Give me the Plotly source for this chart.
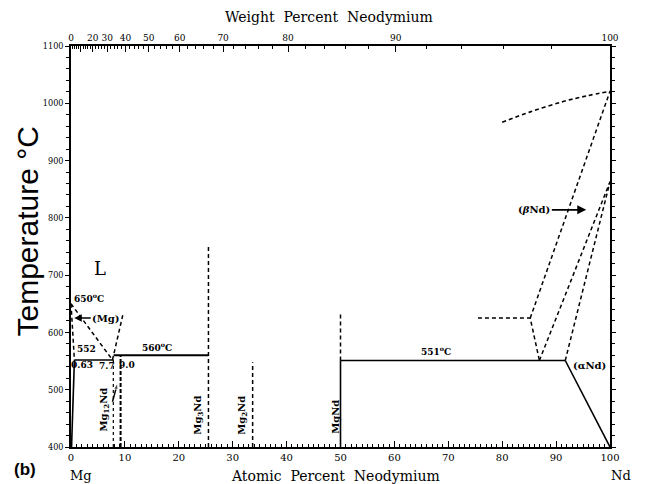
import plotly.graph_objects as go

# ---------------- data (atomic % Nd, temperature in C) ----------------
mg_liquidus_x = [0, 7.7]
mg_liquidus_t = [650, 552]
mg_solidus_x = [0, 0.63]
mg_solidus_t = [650, 552]
mg_solvus_x = [0.1, 0.63]
mg_solvus_t = [400, 552]
eut552_x = [0.63, 7.9]
eut552_t = [552, 552]
per560_x = [7.9, 25.5]
per560_t = [560, 560]
liq2_x = [7.7, 9.6]
liq2_t = [552, 630]
mg12nd_x = [7.85, 7.85]
mg12nd_t = [400, 552]
mg41nd5_x = [9.2, 9.2]
mg41nd5_t = [400, 560]
mg3nd_x = [25.5, 25.5]
mg3nd_t = [400, 750]
mg2nd_x = [33.7, 33.7]
mg2nd_t = [400, 548]
mgnd_solid_x = [50, 50]
mgnd_solid_t = [400, 551]
mgnd_dash_x = [50, 50]
mgnd_dash_t = [551, 635]
eut551_x = [50, 91.7]
eut551_t = [551, 551]
and_solvus_x = [91.7, 100]
and_solvus_t = [551, 400]
and_trans_x = [91.7, 100]
and_trans_t = [551, 863]
bnd_trans_x = [86.9, 100]
bnd_trans_t = [551, 863]
bnd_v_x = [75.5, 85.2, 86.9]
bnd_v_t = [625, 625, 551]
bnd_solidus_x = [85.2, 100]
bnd_solidus_t = [625, 1021]
nd_liquidus_x = [80, 85.2, 91.3, 95.7, 100]
nd_liquidus_t = [967, 985, 1003, 1013, 1021]
arrow_mg12_x = [7.7, 8.65]
arrow_mg12_t = [479, 512]

x_ticks = [0, 10, 20, 30, 40, 50, 60, 70, 80, 90, 100]
t_ticks = [400, 500, 600, 700, 800, 900, 1000, 1100]
wt_ticks = [0, 10, 20, 30, 40, 50, 60, 70, 80, 90, 100]
wt_labels = ["0", " ", "20", "30", "40", "50", "60", "70", "80", "90", "100"]

M_ND = 144.24
M_MG = 24.305


def wt_to_at(w):
    if w >= 100:
        return 100.0
    a = w / M_ND
    b = (100 - w) / M_MG
    return 100 * a / (a + b)


wt_pos = [wt_to_at(w) for w in wt_ticks]
wt_minor = [wt_to_at(w) for w in range(0, 101, 2)]

fig = go.Figure()

SOLID = dict(color="black", width=1.6)
DASH = dict(color="black", width=1.5, dash="4px,3px")


def add(x, t, line):
    fig.add_trace(go.Scatter(x=x, y=t, mode="lines", line=line,
                             hoverinfo="skip", showlegend=False))


add(mg_liquidus_x, mg_liquidus_t, DASH)
add(mg_solidus_x, mg_solidus_t, DASH)
add(mg_solvus_x, mg_solvus_t, SOLID)
add(eut552_x, eut552_t, SOLID)
add(per560_x, per560_t, dict(color="black", width=2))
add(liq2_x, liq2_t, DASH)
add(mg12nd_x, mg12nd_t, dict(color="black", width=1.2, dash="3px,3px"))
add(mg41nd5_x, mg41nd5_t, dict(color="black", width=2, dash="4px,2px"))
add(mg3nd_x, mg3nd_t, DASH)
add(mg2nd_x, mg2nd_t, DASH)
add(mgnd_solid_x, mgnd_solid_t, SOLID)
add(mgnd_dash_x, mgnd_dash_t, DASH)
add(eut551_x, eut551_t, SOLID)
add(and_solvus_x, and_solvus_t, SOLID)
add(and_trans_x, and_trans_t, DASH)
add(bnd_trans_x, bnd_trans_t, DASH)
add(bnd_v_x, bnd_v_t, DASH)
add(bnd_solidus_x, bnd_solidus_t, DASH)
add(nd_liquidus_x, nd_liquidus_t, dict(color="black", width=1.6, dash="4px,3px", shape="spline"))

# small arrow toward Mg12Nd line
fig.add_trace(go.Scatter(x=arrow_mg12_x, y=arrow_mg12_t, mode="lines+markers",
                         line=dict(color="black", width=1.5),
                         marker=dict(symbol=["circle", "arrow"], size=[0, 7],
                                     angleref="previous", color="black"),
                         hoverinfo="skip", showlegend=False))

# invisible trace for top axis
fig.add_trace(go.Scatter(x=[0, 100], y=[400, 400], xaxis="x2", mode="lines",
                         line=dict(width=0), hoverinfo="skip", showlegend=False))

SERIF = "DejaVu Serif"
ann = []


def txt(x, y, s, size=10, xanchor="center", yanchor="middle", angle=0, bold=True,
        xref="x", yref="y", family=SERIF):
    ann.append(dict(x=x, y=y, xref=xref, yref=yref, text=("<b>%s</b>" % s) if bold else s,
                    showarrow=False, xanchor=xanchor, yanchor=yanchor, textangle=angle,
                    font=dict(family=family, size=size, color="black")))


txt(5.4, 712, "L", size=18, bold=False)
txt(0.1, 660, "650<sup>o</sup>C", size=9, xanchor="left")
txt(2.8, 559, "552", size=9, yanchor="bottom")
txt(2.1, 544, "0.63", size=9)
txt(6.6, 541, "7.7", size=9)
txt(10.4, 543, "9.0", size=9)
txt(16.0, 561, "560<sup>o</sup>C", size=9, yanchor="bottom")
txt(67.8, 554, "551<sup>o</sup>C", size=9, yanchor="bottom")
txt(101, 1021, "1021<sup>o</sup>C", size=9, xanchor="left")
txt(101, 856, "863<sup>o</sup>C", size=9, xanchor="left")
txt(96.2, 543, "(αNd)", size=10)
txt(6.2, 466, "Mg<sub>12</sub>Nd", size=10, angle=-90)
txt(23.7, 456, "Mg<sub>3</sub>Nd", size=10, angle=-90)
txt(31.9, 456, "Mg<sub>2</sub>Nd", size=10, angle=-90)
txt(49.1, 452, "MgNd", size=10, angle=-90)

# arrows
ann.append(dict(x=0.6, y=625, xref="x", yref="y", ax=32, ay=0, text="<b>(Mg)</b>",
                showarrow=True, arrowhead=2, arrowsize=1, arrowwidth=1.5, arrowcolor="black",
                font=dict(family=SERIF, size=10, color="black")))
ann.append(dict(x=95.6, y=814, xref="x", yref="y", ax=-52, ay=0, text="<b>(<i>β</i>Nd)</b>",
                showarrow=True, arrowhead=2, arrowsize=1, arrowwidth=1.8, arrowcolor="black",
                font=dict(family=SERIF, size=10, color="black")))

# axis titles / outer labels
txt(0.479, 1.072, "Weight  Percent  Neodymium", size=14, bold=False, xref="paper", yref="paper")
txt(0.49, -0.072, "Atomic  Percent  Neodymium", size=14, bold=False, xref="paper", yref="paper")
txt(0.019, -0.072, "Mg", size=13, bold=False, xref="paper", yref="paper")
txt(1.02, -0.072, "Nd", size=13, bold=False, xref="paper", yref="paper")
txt(-0.085, -0.055, "(b)", size=17, bold=True, xref="paper", yref="paper", family="Liberation Sans")
txt(-0.08, 0.537, "Temperature °C", size=30, bold=False, angle=-90, xref="paper", yref="paper",
    family="Liberation Sans")

fig.update_layout(
    width=649, height=484,
    margin=dict(l=71, r=39, t=46, b=37),
    paper_bgcolor="white", plot_bgcolor="white",
    showlegend=False,
    annotations=ann,
    xaxis=dict(range=[0, 100], tickvals=x_ticks, ticks="inside", ticklen=6, tickwidth=1.2,
               tickcolor="black", showgrid=False, zeroline=False,
               showline=True, linecolor="black", linewidth=1.5, mirror=False,
               tickfont=dict(family=SERIF, size=10, color="black"),
               minor=dict(dtick=1, ticks="inside", ticklen=3, tickcolor="black", tickwidth=1)),
    xaxis2=dict(range=[0, 100], overlaying="x", side="top", tickvals=wt_pos, ticktext=wt_labels,
                tickangle=0, ticks="inside", ticklen=6, tickwidth=1.2, tickcolor="black",
                showgrid=False, zeroline=False, showline=True, linecolor="black", linewidth=1.5,
                tickfont=dict(family=SERIF, size=9, color="black"),
                minor=dict(tickvals=wt_minor, ticks="inside", ticklen=3, tickcolor="black", tickwidth=1)),
    yaxis=dict(range=[400, 1100], tickvals=t_ticks, ticks="outside", ticklen=4, tickwidth=1.2,
               tickcolor="black", showgrid=False, zeroline=False, showline=True,
               linecolor="black", linewidth=1.5, mirror="ticks",
               tickfont=dict(family="DejaVu Serif Condensed", size=9, color="black"),
               minor=dict(dtick=20, ticks="outside", ticklen=3, tickcolor="black", tickwidth=1)),
)

fig.write_html("out.html")
